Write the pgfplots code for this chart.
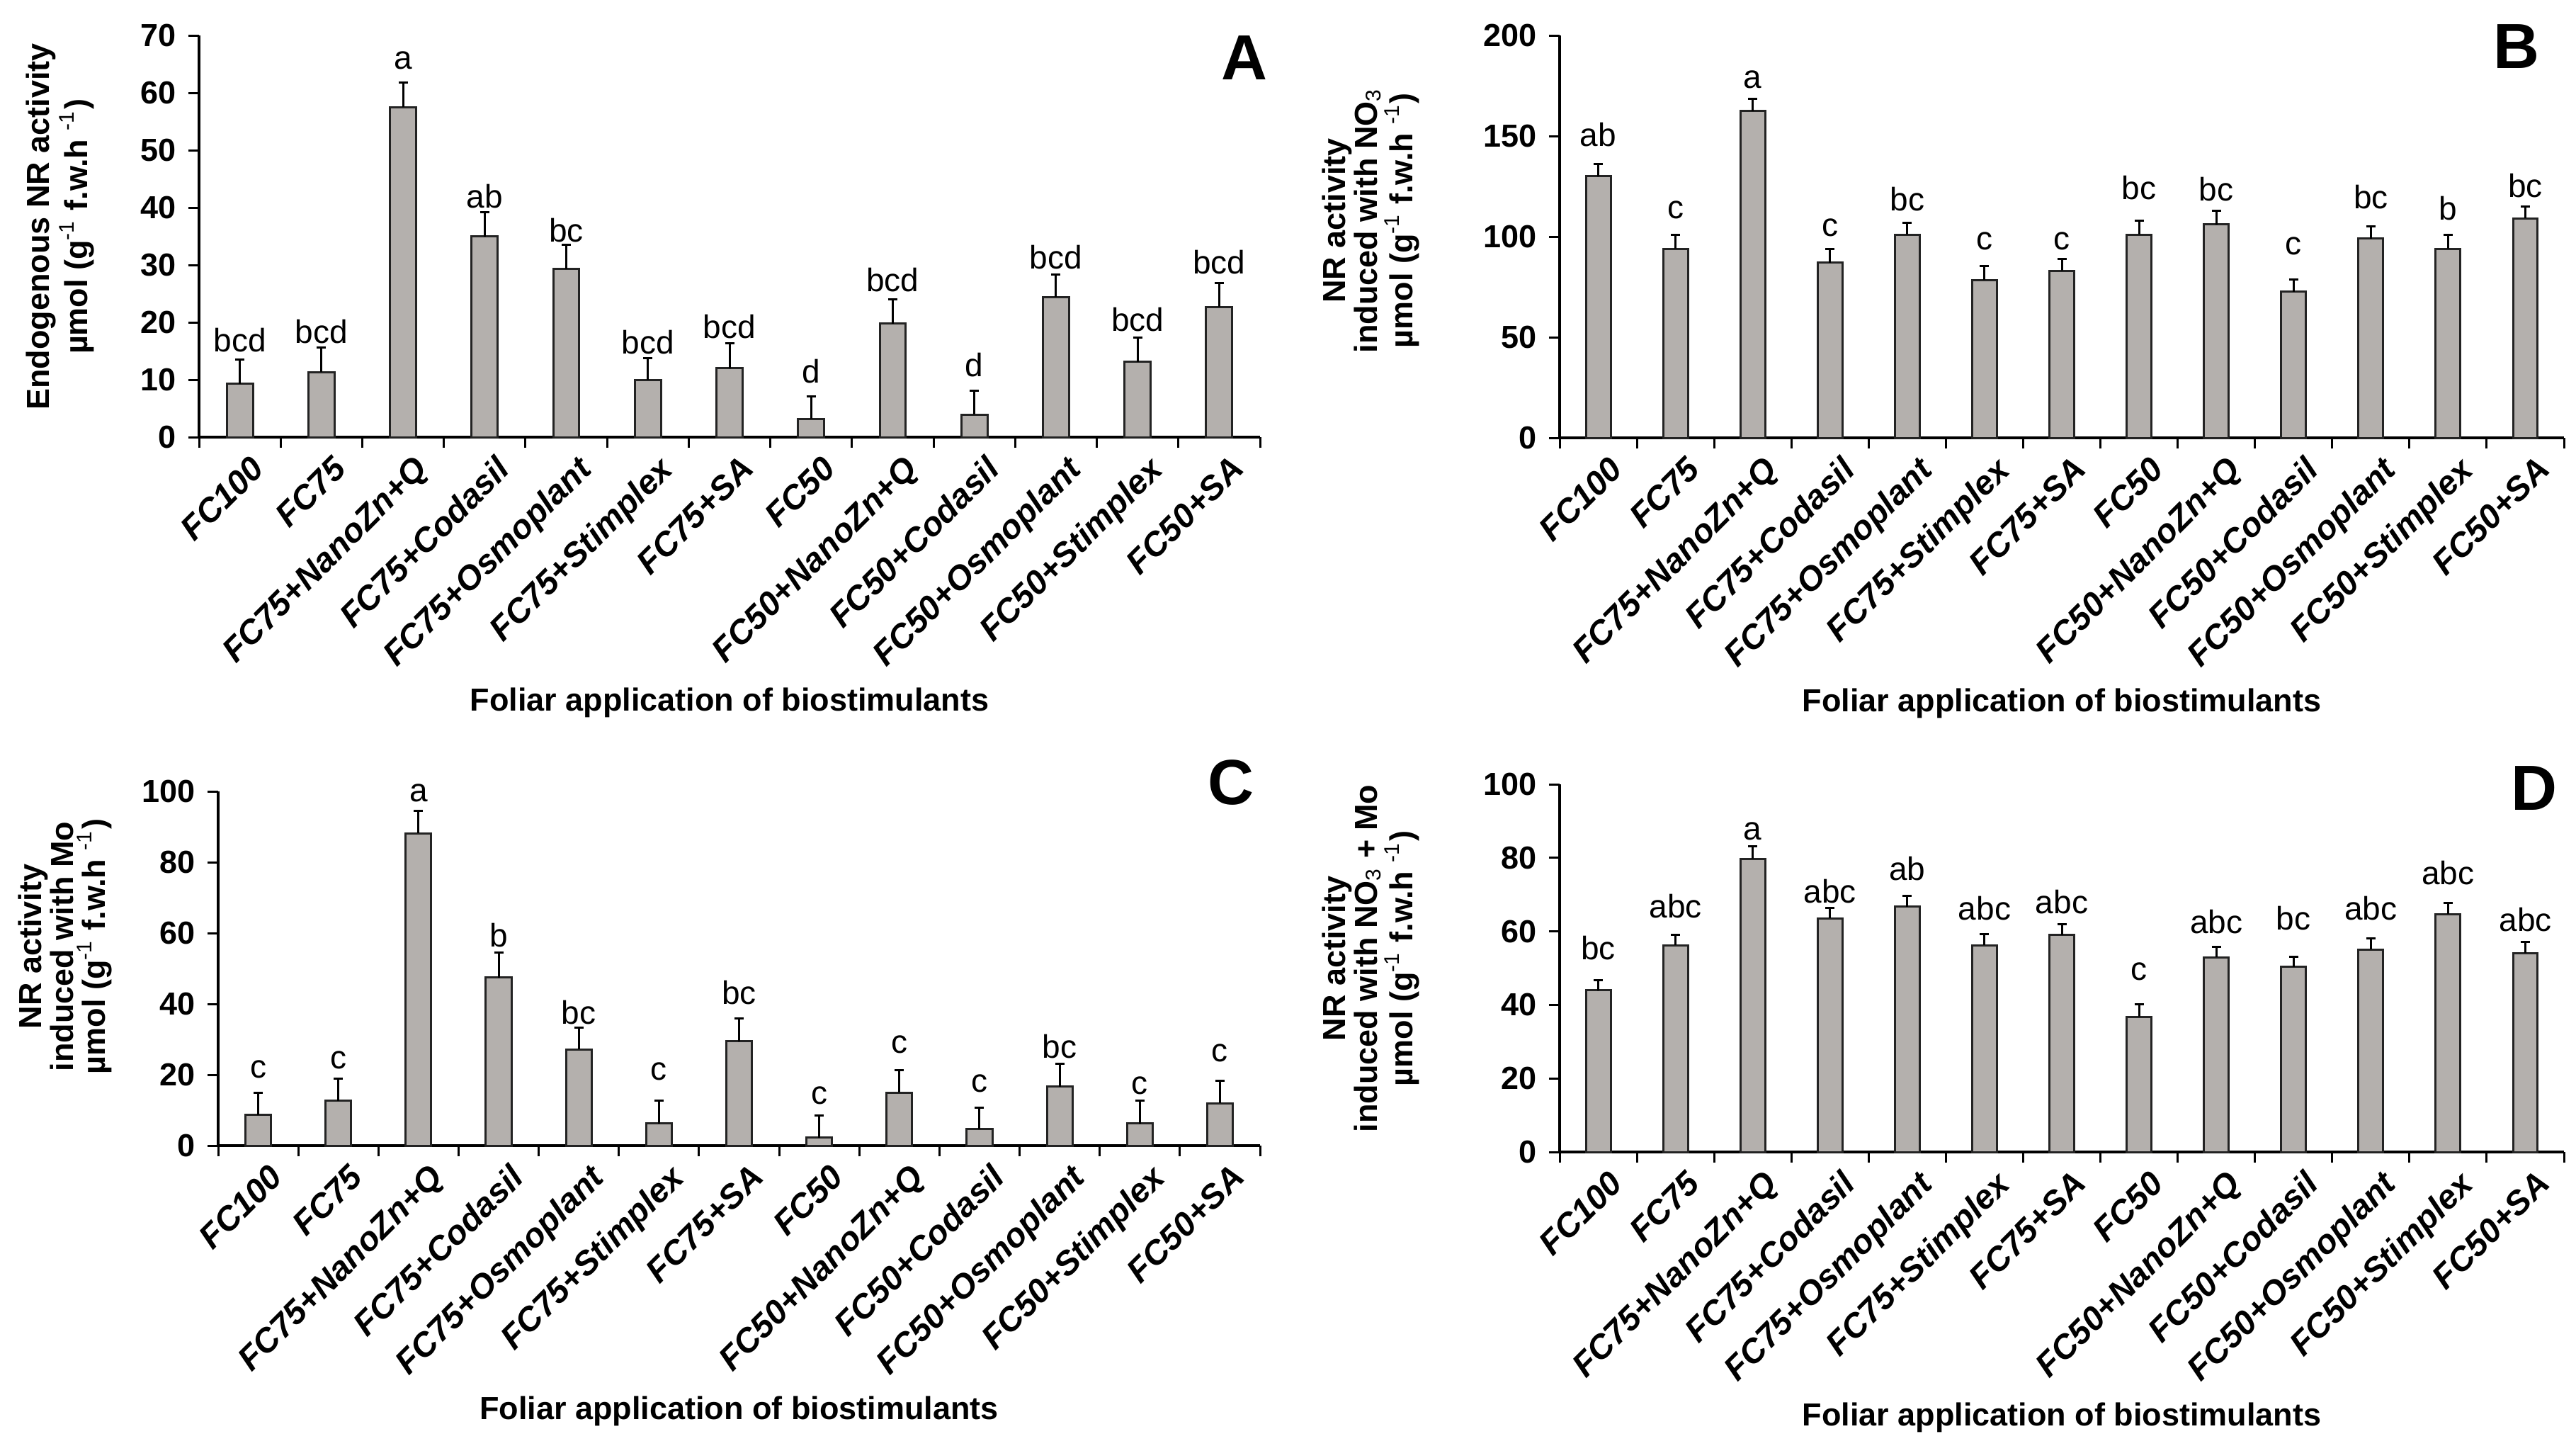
\documentclass[border=0pt]{standalone}
\usepackage{fontspec}
\setmainfont{Liberation Sans}
\usepackage{pgfplots}
\pgfplotsset{compat=1.18}
\usepackage{pgfplotstable}

\definecolor{barfill}{RGB}{180,176,173}
\definecolor{barline}{RGB}{35,35,35}
\newcommand{\fs}[1]{\fontsize{#1}{#1}\selectfont}

\pgfplotstableread{
x y e lab base
0 9.3 4.2 bcd 14.9
1 11.3 4.3 bcd 16.4
2 57.5 4.3 a 64.1
3 35.0 4.2 ab 39.9
4 29.3 4.2 bc 34.0
5 10.0 3.8 bcd 14.5
6 12.0 4.3 bcd 17.2
7 3.2 3.9 d 9.4
8 19.8 4.2 bcd 25.4
9 3.9 4.2 d 10.6
10 24.4 3.9 bcd 29.3
11 13.1 4.3 bcd 18.4
12 22.7 4.2 bcd 28.5
}\tabA

\pgfplotstableread{
x y e lab base
0 130 6 ab 144.8
1 94 7 c 109
2 162.5 6 a 173.9
3 87 7 c 100.1
4 101 6 bc 112.8
5 78.5 7 c 93.4
6 83 6 c 93.4
7 101 7 bc 118.4
8 106 7 bc 117.8
9 72.6 6 c 91.2
10 99 6 bc 114
11 94 7 b 108.4
12 109 6 bc 119.6
}\tabB

\pgfplotstableread{
x y e lab base
0 8.7 6.3 c 19.1
1 12.7 6.3 c 21.8
2 88.2 6.4 a 97.1
3 47.5 7.0 b 56.2
4 27.2 6.1 bc 34.3
5 6.3 6.4 c 18.5
6 29.5 6.4 bc 39.9
7 2.3 6.3 c 11.8
8 15.0 6.3 c 26.1
9 4.7 6.0 c 15.1
10 16.7 6.5 bc 24.8
11 6.3 6.4 c 14.5
12 12.0 6.3 c 23.8
}\tabC

\pgfplotstableread{
x y e lab base
0 44.0 2.8 bc 52.3
1 56.2 2.8 abc 63.6
2 79.7 3.4 a 84.9
3 63.5 2.8 abc 67.7
4 66.7 2.9 ab 73.8
5 56.2 3.0 abc 63.2
6 59.0 2.9 abc 64.9
7 36.8 3.3 c 46.7
8 52.9 2.9 abc 59.4
9 50.3 2.8 bc 60.4
10 55.1 3.0 abc 63.2
11 64.7 3.0 abc 72.8
12 54.1 3.0 abc 60.0
}\tabD

\pgfplotsset{
  panel/.style={
    scale only axis,
    axis lines*=left,
    axis line style={line width=0.7pt, black},
    xmin=-0.5, xmax=12.5,
    ymin=0,
    xtick={0,...,12},
    xticklabels={FC100,FC75,FC75+NanoZn+Q,FC75+Codasil,FC75+Osmoplant,FC75+Stimplex,FC75+SA,FC50,FC50+NanoZn+Q,FC50+Codasil,FC50+Osmoplant,FC50+Stimplex,FC50+SA},
    major x tick style={draw=none},
    minor xtick={-0.5,0.5,...,12.5},
    minor x tick style={line width=0.6pt, black},
    tick align=outside,
    major tick length=3pt, minor tick length=3pt,
    ytick style={line width=0.6pt, black},
    /pgf/number format/assume math mode=true,
    yticklabel style={font=\fs{9}\bfseries},
    xticklabel style={font=\fs{9.5}\bfseries\itshape, rotate=45, anchor=north east, inner sep=0pt, yshift=-3pt, xshift=0.8pt},
    xlabel={Foliar application of biostimulants},
    xlabel style={font=\fs{9}\bfseries, at={(axis description cs:0.5,0)}, anchor=base, yshift=-77.2pt},
    ylabel style={font=\fs{9}\bfseries, align=center, anchor=center},
    clip=false,
  },
  bars/.style={ybar, bar width=0.32, bar shift=0pt, fill=barfill, draw=barline, line width=0.6pt,
    error bars/.cd, y dir=plus, y explicit,
    error bar style={line width=0.6pt, black},
    error mark options={rotate=90, mark size=1.3pt, line width=0.6pt, black}},
  letters/.style={draw=none, mark=none, nodes near coords, point meta=explicit symbolic,
    nodes near coords style={anchor=base, inner sep=0pt, font=\fs{9.2}}},
}

\begin{document}
\begin{tikzpicture}
\useasboundingbox (0,0) rectangle (727.4pt,408pt);

% Panel A
\begin{axis}[panel, at={(56.2pt,284.6pt)}, anchor=south west, width=299.6pt, height=113.4pt,
  ymax=70, ytick={0,10,...,70},
  ylabel={Endogenous NR activity\\µmol (g\textsuperscript{\mdseries -1} f.w.h \textsuperscript{\mdseries -1})},
  ylabel style={at={(axis description cs:-0.131,0.524)}}]
\addplot[bars] table[x=x, y=y, y error=e] \tabA;
\addplot[letters] table[x=x, y=base, meta=lab] \tabA;
\node[font=\fs{18}\bfseries] at (axis description cs:0.985,0.945) {A};
\end{axis}

% Panel B
\begin{axis}[panel, at={(440.4pt,284.4pt)}, anchor=south west, width=283.6pt, height=113.6pt,
  ymax=200, ytick={0,50,...,200},
  ylabel={NR activity\\induced with NO\textsubscript{\mdseries 3}\\µmol (g\textsuperscript{\mdseries -1} f.w.h \textsuperscript{\mdseries -1})},
  ylabel style={at={(axis description cs:-0.188,0.540)}}]
\addplot[bars] table[x=x, y=y, y error=e] \tabB;
\addplot[letters] table[x=x, y=base, meta=lab] \tabB;
\node[font=\fs{18}\bfseries] at (axis description cs:0.953,0.972) {B};
\end{axis}

% Panel C
\begin{axis}[panel, at={(61.6pt,84.6pt)}, anchor=south west, width=294.2pt, height=100pt,
  ymax=100, ytick={0,20,...,100},
  ylabel={NR activity\\induced with Mo\\µmol (g\textsuperscript{\mdseries -1} f.w.h \textsuperscript{\mdseries -1})},
  ylabel style={at={(axis description cs:-0.147,0.562)}}]
\addplot[bars] table[x=x, y=y, y error=e] \tabC;
\addplot[letters] table[x=x, y=base, meta=lab] \tabC;
\node[font=\fs{18}\bfseries] at (axis description cs:0.972,1.025) {C};
\end{axis}

% Panel D
\begin{axis}[panel, at={(440.4pt,82.8pt)}, anchor=south west, width=283.6pt, height=103.8pt,
  ymax=100, ytick={0,20,...,100},
  ylabel={NR activity\\induced with NO\textsubscript{\mdseries 3} + Mo\\µmol (g\textsuperscript{\mdseries -1} f.w.h \textsuperscript{\mdseries -1})},
  ylabel style={at={(axis description cs:-0.188,0.526)}}]
\addplot[bars] table[x=x, y=y, y error=e] \tabD;
\addplot[letters] table[x=x, y=base, meta=lab] \tabD;
\node[font=\fs{18}\bfseries] at (axis description cs:0.970,0.990) {D};
\end{axis}
\end{tikzpicture}
\end{document}
